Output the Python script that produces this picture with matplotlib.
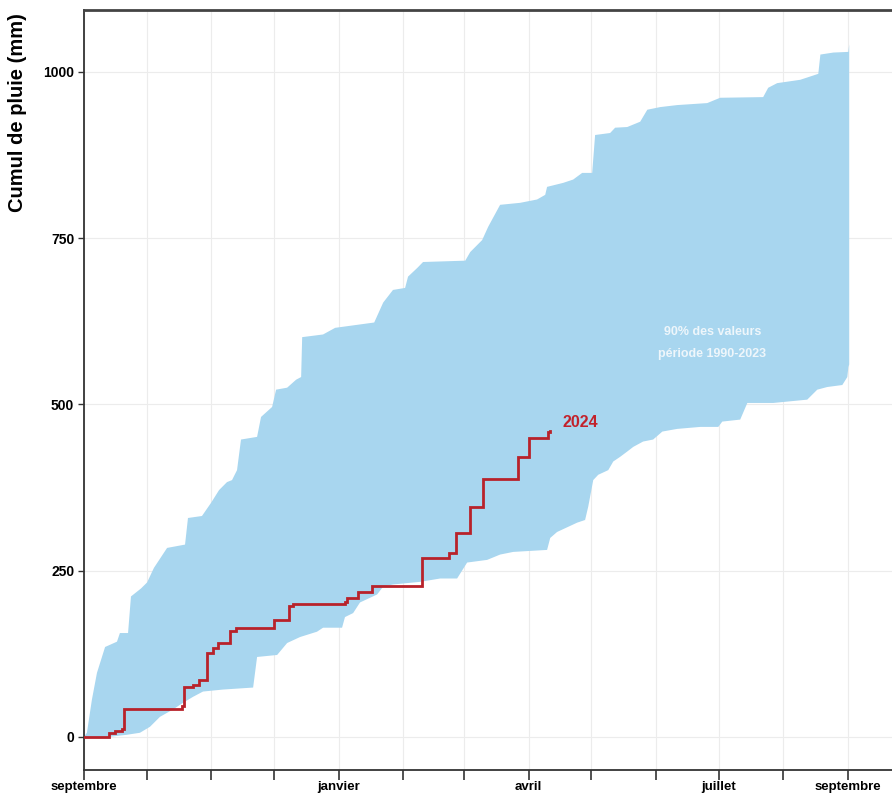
import numpy as np
import matplotlib
matplotlib.use("Agg")
import matplotlib.pyplot as plt
import matplotlib.dates as mdates
from matplotlib import font_manager

# ---------------- data ----------------
start_date = "2023-09-01"

# upper edge of the 90% band (day offset from 1 Sept, cumulative mm)
upper_days = [0, 1.4, 3.8, 6.2, 10.1, 15.8, 17.2, 21.1, 22.5, 27.3, 30.2, 33.5, 39.8, 48.4,
              49.8, 56.5, 60.9, 64.7, 68.5, 70.9, 73.3, 75.2, 82.9, 84.8, 90.1, 92.0, 97.3,
              101.6, 104.0, 104.5, 114.5, 120.3, 139.0, 143.3, 148.0, 153.8, 155.2, 159.6,
              162.4, 182.6, 185.0, 190.7, 193.6, 199.3, 208.9, 217.0, 220.9, 221.8, 229.5,
              234.3, 238.6, 243.4, 244.8, 252.0, 254.4, 260.2, 266.4, 269.8, 276.0, 284.1,
              298.5, 304.7, 325.3, 327.7, 332.0, 343.0, 346.9, 351.7, 352.7, 358.9, 366.1, 366.5]
upper_mm = [0, 6, 56, 96, 135, 143, 156, 156, 211, 223, 232, 254, 284, 289,
            329, 332, 352, 371, 383, 386, 401, 447, 451, 481, 496, 522, 525,
            537, 541, 601, 605, 615, 623, 653, 672, 675, 692, 705,
            714, 716, 729, 747, 767, 800, 803, 808, 815, 827, 833,
            838, 848, 848, 905, 908, 916, 917, 925, 943, 947, 950,
            953, 961, 962, 976, 983, 988, 992, 997, 1026, 1029, 1030, 1041]

# lower edge of the 90% band
lower_days = [0, 12.5, 20.6, 26.8, 31.6, 36.4, 42.6, 47.4, 52.2, 57.0, 66.6, 81.0, 82.9,
              92.5, 97.3, 103.5, 111.6, 114.5, 123.6, 125.0, 128.9, 132.2, 140.4, 143.3,
              148.0, 161.0, 170.6, 178.7, 183.5, 193.1, 199.3, 205.6, 221.8, 223.3, 226.6,
              236.2, 240.0, 241.5, 243.9, 246.3, 251.1, 253.5, 256.8, 260.2, 263.1, 267.8,
              272.6, 277.0, 284.1, 295.2, 303.8, 305.7, 314.3, 317.7, 330.1, 346.4, 351.2,
              356.0, 363.2, 365.6, 366.1, 366.5]
lower_mm = [0, 0, 3, 6, 15, 30, 41, 51, 60, 68, 71, 74, 120,
            123, 141, 150, 158, 164, 164, 180, 186, 202, 214, 226,
            229, 233, 238, 238, 262, 266, 274, 278, 281, 299, 308,
            322, 326, 346, 386, 394, 401, 414, 421, 429, 436, 444,
            447, 459, 463, 466, 466, 474, 477, 502, 502, 507, 522,
            526, 529, 541, 556, 560]

# 2024 season (step starts)
y2024_days = [0, 12, 15, 18, 19, 47, 48, 52, 55, 59, 62, 64, 70, 73, 91, 98, 100, 125,
              126, 131, 138, 162, 175, 178, 185, 191, 208, 213, 222, 223]
y2024_mm = [0, 6, 8, 11, 41, 47, 75, 78, 86, 126, 134, 141, 159, 164, 176, 196, 199, 203,
            209, 217, 227, 269, 277, 307, 346, 388, 420, 450, 459, 460]

month_ticks = ["2023-09-01", "2023-10-01", "2023-11-01", "2023-12-01", "2024-01-01",
               "2024-02-01", "2024-03-01", "2024-04-01", "2024-05-01", "2024-06-01",
               "2024-07-01", "2024-08-01", "2024-09-01"]
month_labels = ["septembre", "", "", "", "janvier", "", "", "avril", "", "", "juillet", "", "septembre"]
y_ticks = [0, 250, 500, 750, 1000]

# ---------------- helpers ----------------
base = np.datetime64(start_date)

def to_dates(days):
    d = np.asarray(days, dtype=float)
    return mdates.date2num(base) + d

names = {f.name for f in font_manager.fontManager.ttflist}
narrow = "Liberation Sans Narrow" if "Liberation Sans Narrow" in names else "Liberation Sans"

plt.rcParams["font.family"] = ["Liberation Sans", "DejaVu Sans"]

fig = plt.figure(figsize=(8.92, 7.96), dpi=100)
ax = fig.add_axes([84 / 892, 26 / 796, 1 - 84 / 892, (770 - 10) / 796])

# band polygon
ux = to_dates(upper_days)
lx = to_dates(lower_days)
poly_x = np.concatenate([ux, lx[::-1]])
poly_y = np.concatenate([upper_mm, lower_mm[::-1]])
ax.fill(poly_x, poly_y, color="#a8d6ef", lw=0, zorder=2)

# 2024 line
ax.plot(to_dates(y2024_days), y2024_mm, drawstyle="steps-post", color="#b8222a",
        lw=2.0, zorder=3, solid_joinstyle="miter")

ax.text(to_dates([229])[0], 472, "2024", color="#c2222b", fontsize=11.5,
        fontweight="bold", ha="left", va="center", zorder=4)
ax.text(to_dates([301])[0], 608, "90% des valeurs", color="#eef6fb", fontsize=9,
        fontweight="bold", ha="center", va="center", zorder=4)
ax.text(to_dates([301])[0], 576, "période 1990-2023", color="#eef6fb", fontsize=9,
        fontweight="bold", ha="center", va="center", zorder=4)

# axes
ax.set_xlim(to_dates([0])[0], to_dates([387])[0])
ax.set_ylim(-50, 1093)

tick_nums = mdates.date2num(np.array(month_ticks, dtype="datetime64[D]"))
ax.set_xticks(tick_nums)
ax.set_xticklabels(month_labels, fontsize=9.5, fontweight="bold", family=[narrow, "DejaVu Sans"])
ax.set_yticks(y_ticks)
ax.set_yticklabels([str(v) for v in y_ticks], fontsize=10, fontweight="bold")

ax.tick_params(axis="x", length=7, width=1.2, color="#333333", pad=1)
ax.tick_params(axis="y", length=4, width=1.0, color="#333333", pad=3)

ax.grid(True, color="#ececec", lw=0.8, zorder=0)
ax.set_axisbelow(True)

for s in ["left", "bottom"]:
    ax.spines[s].set_color("#333333")
    ax.spines[s].set_linewidth(1.3)
ax.spines["top"].set_color("#444444")
ax.spines["top"].set_linewidth(2.0)
ax.spines["right"].set_visible(False)

fig.text(18 / 892, 1 - 113 / 796, "Cumul de pluie (mm)", rotation=90, fontsize=14.5,
         fontweight="bold", ha="center", va="center")

fig.savefig("out.png", dpi=100)
